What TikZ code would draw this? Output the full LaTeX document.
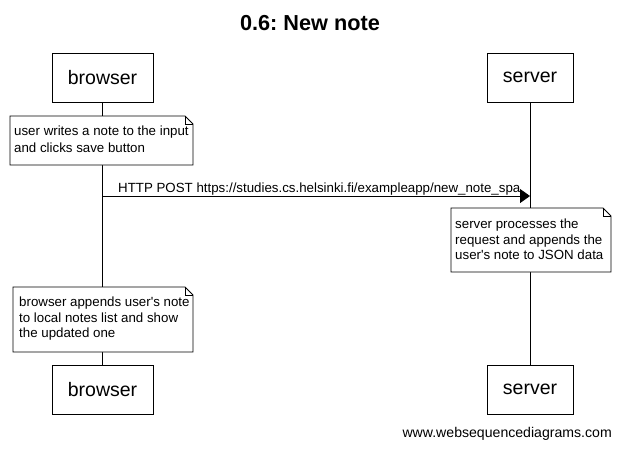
\documentclass[tikz,border=0pt]{standalone}
\usepackage{fontspec}
\setmainfont{Liberation Sans}
\usetikzlibrary{arrows.meta}
\frenchspacing
\newcommand{\sq}{\textquotesingle}
\begin{document}
\begin{tikzpicture}[x=1pt,y=-1pt,
  actor/.style={draw=black,line width=0.8pt,fill=white,minimum width=#1,minimum height=49pt,inner sep=0pt,font=\fontsize{19.5}{22}\selectfont},
  notetext/.style={anchor=north west,inner sep=0pt,align=left,font=\fontsize{13.3}{15.5}\selectfont},
  life/.style={line width=0.8pt},
  notebox/.style={draw=black,line width=0.8pt,fill=white},
  msg/.style={line width=0.8pt,-{Triangle[length=10pt,width=14pt]}}
]
\useasboundingbox (0,0) rectangle (620,448);
\fill[white] (0,0) rectangle (620,448);
\node[font=\bfseries\fontsize{21.7}{24}\selectfont] (title) at (310,23) {0.6: New note};

% actors
\node[actor=101pt] (bt) at (102.5,77.5) {browser};
\node[actor=86pt] (st) at (530,77.5) {server};
\node[actor=101pt] (bb) at (102.5,389.5) {browser};
\node[actor=86pt] (sb) at (530,389.5) {server};

% lifelines
\draw[life] (bt.south) -- (bb.north);
\draw[life] (st.south) -- (sb.north);

% note 1
\draw[notebox] (10,116) -- (185,116) -- (193,124) -- (193,165) -- (10,165) -- cycle;
\draw[line width=0.6pt] (185,116) -- (185,124) -- (193,124);
\node[notetext,font=\fontsize{13.3}{16.7}\selectfont] (n1) at (14,126) {user writes a note to the input\\and clicks save button};

% message
\coordinate (m1) at (102,196);
\coordinate (m2) at (530,196);
\draw[msg] (m1) -- (m2);
\node[anchor=base west,inner sep=0pt,font=\fontsize{13.3}{15}\selectfont] (lbl) at (118,192) {HTTP POST https://studies.cs.helsinki.fi/exampleapp/new\_note\_spa};

% note 2
\draw[notebox] (451,208) -- (603,208) -- (611,216) -- (611,272) -- (451,272) -- cycle;
\draw[line width=0.6pt] (603,208) -- (603,216) -- (611,216);
\node[notetext] (n2) at (455,219) {server processes the\\request and appends the\\user\sq s note to JSON data};

% note 3
\draw[notebox] (13,287) -- (185,287) -- (193,295) -- (193,352) -- (13,352) -- cycle;
\draw[line width=0.6pt] (185,287) -- (185,295) -- (193,295);
\node[notetext] (n3) at (19,297) {browser appends user\sq s note\\to local notes list and show\\the updated one};

\node[anchor=east,inner sep=0pt,font=\fontsize{14.1}{16}\selectfont] (foot) at (612,434) {www.websequencediagrams.com};
\end{tikzpicture}
\end{document}
